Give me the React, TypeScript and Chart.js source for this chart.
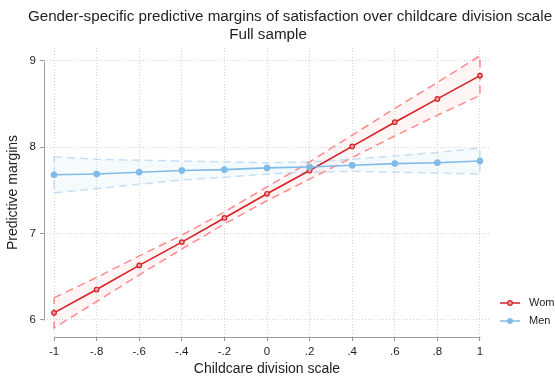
import { useEffect, useRef } from "react";
import { Chart, registerables } from "chart.js";

Chart.register(...registerables);

const xValues = [-1, -0.8, -0.6, -0.4, -0.2, 0, 0.2, 0.4, 0.6, 0.8, 1];

const womenMargin = [6.08, 6.35, 6.63, 6.9, 7.18, 7.46, 7.73, 8.01, 8.29, 8.56, 8.83];
const womenLower = [5.905, 6.21, 6.52, 6.82, 7.11, 7.38, 7.63, 7.88, 8.13, 8.37, 8.6];
const womenUpper = [6.255, 6.49, 6.74, 6.98, 7.25, 7.54, 7.83, 8.14, 8.45, 8.75, 9.06];

const menMargin = [7.68, 7.69, 7.71, 7.73, 7.74, 7.76, 7.77, 7.79, 7.81, 7.82, 7.84];
const menLower = [7.47, 7.52, 7.57, 7.62, 7.65, 7.69, 7.71, 7.72, 7.71, 7.7, 7.69];
const menUpper = [7.89, 7.86, 7.85, 7.84, 7.83, 7.82, 7.83, 7.86, 7.9, 7.94, 7.99];

const xTicks = [-1, -0.8, -0.6, -0.4, -0.2, 0, 0.2, 0.4, 0.6, 0.8, 1];
const yTicks = [6, 7, 8, 9];

const titleText =
  "Gender-specific predictive margins of satisfaction over childcare division scale";
const subtitleText = "Full sample";
const xTitle = "Childcare division scale";
const yTitle = "Predictive margins";
const legendLabels = ["Wom", "Men"];

const FONT = '"Liberation Sans", Arial, Helvetica, sans-serif';
const TEXT = "#1e1e1e";
const AXIS = "#9c9c9c";
const GRID = "#d4d4d4";

const WOMEN = "#d71f26";
const WOMEN_PT = "#f2a0a0";
const WOMEN_CI = "rgba(255,95,95,0.72)";
const WOMEN_FILL = "rgba(255,80,80,0.06)";
const MEN = "#80bbe8";
const MEN_CI = "rgba(150,195,235,0.5)";
const MEN_FILL = "rgba(130,185,230,0.08)";

function fmtTick(v: number): string {
  const r = Math.round(v * 10) / 10;
  if (r === 0) return "0";
  let s = String(Math.abs(r));
  if (s.startsWith("0")) s = s.slice(1);
  return (r < 0 ? "-" : "") + s;
}

function band(lower: number[], upper: number[]) {
  const pts = xValues.map((x, i) => ({ x, y: upper[i] }));
  for (let i = xValues.length - 1; i >= 0; i--) pts.push({ x: xValues[i], y: lower[i] });
  pts.push({ x: xValues[0], y: upper[0] });
  return pts;
}

function series(vals: number[]) {
  return xValues.map((x, i) => ({ x, y: vals[i] }));
}

const decorPlugin = {
  id: "decor",
  beforeDatasetsDraw(chart: any) {
    const { ctx, chartArea, scales } = chart;
    const x = scales.x;
    const y = scales.y;
    ctx.save();
    ctx.strokeStyle = AXIS;
    ctx.lineWidth = 1;
    ctx.setLineDash([]);
    ctx.beginPath();
    const ax = Math.round(chartArea.left) + 0.5;
    ctx.moveTo(ax, Math.round(y.getPixelForValue(yTicks[0])) + 0.5);
    ctx.lineTo(ax, Math.round(y.getPixelForValue(yTicks[yTicks.length - 1])) + 0.5);
    const ay = Math.round(chartArea.bottom) + 0.5;
    ctx.moveTo(Math.round(x.getPixelForValue(xTicks[0])) + 0.5, ay);
    ctx.lineTo(Math.round(x.getPixelForValue(xTicks[xTicks.length - 1])) + 0.5, ay);
    ctx.stroke();
    ctx.restore();
  },
  afterDraw(chart: any) {
    const { ctx, chartArea } = chart;
    ctx.save();
    ctx.fillStyle = TEXT;
    ctx.font = `15.2px ${FONT}`;
    ctx.textAlign = "center";
    ctx.textBaseline = "alphabetic";
    ctx.fillText(titleText, 290, 21);
    ctx.fillText(subtitleText, 268, 39);

    // legend
    const colors = [WOMEN, MEN];
    const ptFill = [WOMEN_PT, MEN];
    const ys = [chartArea.bottom - 34, chartArea.bottom - 16];
    const lx = chartArea.right + 10;
    legendLabels.forEach((lab, i) => {
      const yy = ys[i];
      ctx.strokeStyle = colors[i];
      ctx.lineWidth = 1.5;
      ctx.beginPath();
      ctx.moveTo(lx, yy);
      ctx.lineTo(lx + 20, yy);
      ctx.stroke();
      ctx.beginPath();
      ctx.arc(lx + 10, yy, i === 0 ? 2.3 : 3, 0, Math.PI * 2);
      ctx.fillStyle = ptFill[i];
      ctx.fill();
      if (i === 0) {
        ctx.lineWidth = 1.2;
        ctx.strokeStyle = WOMEN;
        ctx.stroke();
      }
      ctx.fillStyle = TEXT;
      ctx.font = `11px ${FONT}`;
      ctx.textAlign = "left";
      ctx.textBaseline = "middle";
      ctx.fillText(lab, lx + 29, yy);
    });
    ctx.restore();
  },
};

export default function App() {
  const ref = useRef<HTMLCanvasElement | null>(null);

  useEffect(() => {
    document.body.style.margin = "0";
    const canvas = ref.current;
    if (!canvas) return;

    const gridOpts = {
      color: GRID,
      lineWidth: 1,
      drawTicks: true,
      tickLength: 4,
      tickColor: AXIS,
      tickWidth: 1,
      tickBorderDash: [],
    };

    const chart = new Chart(canvas, {
      type: "line",
      data: {
        datasets: [
          {
            label: "Men",
            data: series(menMargin),
            borderColor: MEN,
            backgroundColor: MEN,
            borderWidth: 1.6,
            pointRadius: 3,
            pointBackgroundColor: MEN,
            pointBorderColor: MEN,
            pointBorderWidth: 1,
            fill: false,
            tension: 0,
          },
          {
            label: "Women",
            data: series(womenMargin),
            borderColor: WOMEN,
            backgroundColor: WOMEN,
            borderWidth: 1.6,
            pointRadius: 2.3,
            pointBackgroundColor: WOMEN_PT,
            pointBorderColor: WOMEN,
            pointBorderWidth: 1.2,
            fill: false,
            tension: 0,
          },
          {
            label: "Men CI",
            data: band(menLower, menUpper),
            borderColor: MEN_CI,
            backgroundColor: MEN_FILL,
            borderWidth: 1.5,
            borderDash: [8, 5],
            pointRadius: 0,
            fill: "shape",
            tension: 0,
          },
          {
            label: "Women CI",
            data: band(womenLower, womenUpper),
            borderColor: WOMEN_CI,
            backgroundColor: WOMEN_FILL,
            borderWidth: 1.5,
            borderDash: [8, 5],
            pointRadius: 0,
            fill: "shape",
            tension: 0,
          },
        ],
      },
      options: {
        animation: false,
        responsive: false,
        devicePixelRatio: 1,
        events: [],
        layout: { padding: { top: 48, right: 65, bottom: 0, left: 0 } },
        plugins: {
          legend: { display: false },
          tooltip: { enabled: false },
          title: { display: false },
        },
        scales: {
          x: {
            type: "linear",
            min: -1.047,
            max: 1.047,
            afterBuildTicks: (s: any) => {
              s.ticks = xTicks.map((v) => ({ value: v }));
            },
            afterFit: (s: any) => {
              s.height = 44;
            },
            grid: gridOpts,
            border: { display: false, dash: [1, 2] },
            ticks: {
              autoSkip: false,
              maxRotation: 0,
              padding: 4,
              color: TEXT,
              font: { size: 11.5, family: FONT },
              callback: (v: any) => fmtTick(Number(v)),
            },
            title: {
              display: true,
              text: xTitle,
              color: TEXT,
              font: { size: 14, family: FONT },
              padding: { top: 0, bottom: 3.6 },
            },
          },
          y: {
            type: "linear",
            min: 5.8,
            max: 9.15,
            afterBuildTicks: (s: any) => {
              s.ticks = yTicks.map((v) => ({ value: v }));
            },
            afterFit: (s: any) => {
              s.width = 44;
            },
            grid: gridOpts,
            border: { display: false, dash: [1, 2] },
            ticks: {
              padding: 4,
              color: TEXT,
              font: { size: 11.5, family: FONT },
              callback: (v: any) => String(v),
            },
            title: {
              display: true,
              text: yTitle,
              color: TEXT,
              font: { size: 14, family: FONT },
              padding: { top: 4.6, bottom: 0 },
            },
          },
        },
      } as any,
      plugins: [decorPlugin],
    });

    return () => chart.destroy();
  }, []);

  return (
    <div style={{ position: "absolute", left: 0, top: 0, width: 555, height: 381, background: "#fff" }}>
      <canvas ref={ref} width={555} height={381} style={{ display: "block" }} />
    </div>
  );
}
